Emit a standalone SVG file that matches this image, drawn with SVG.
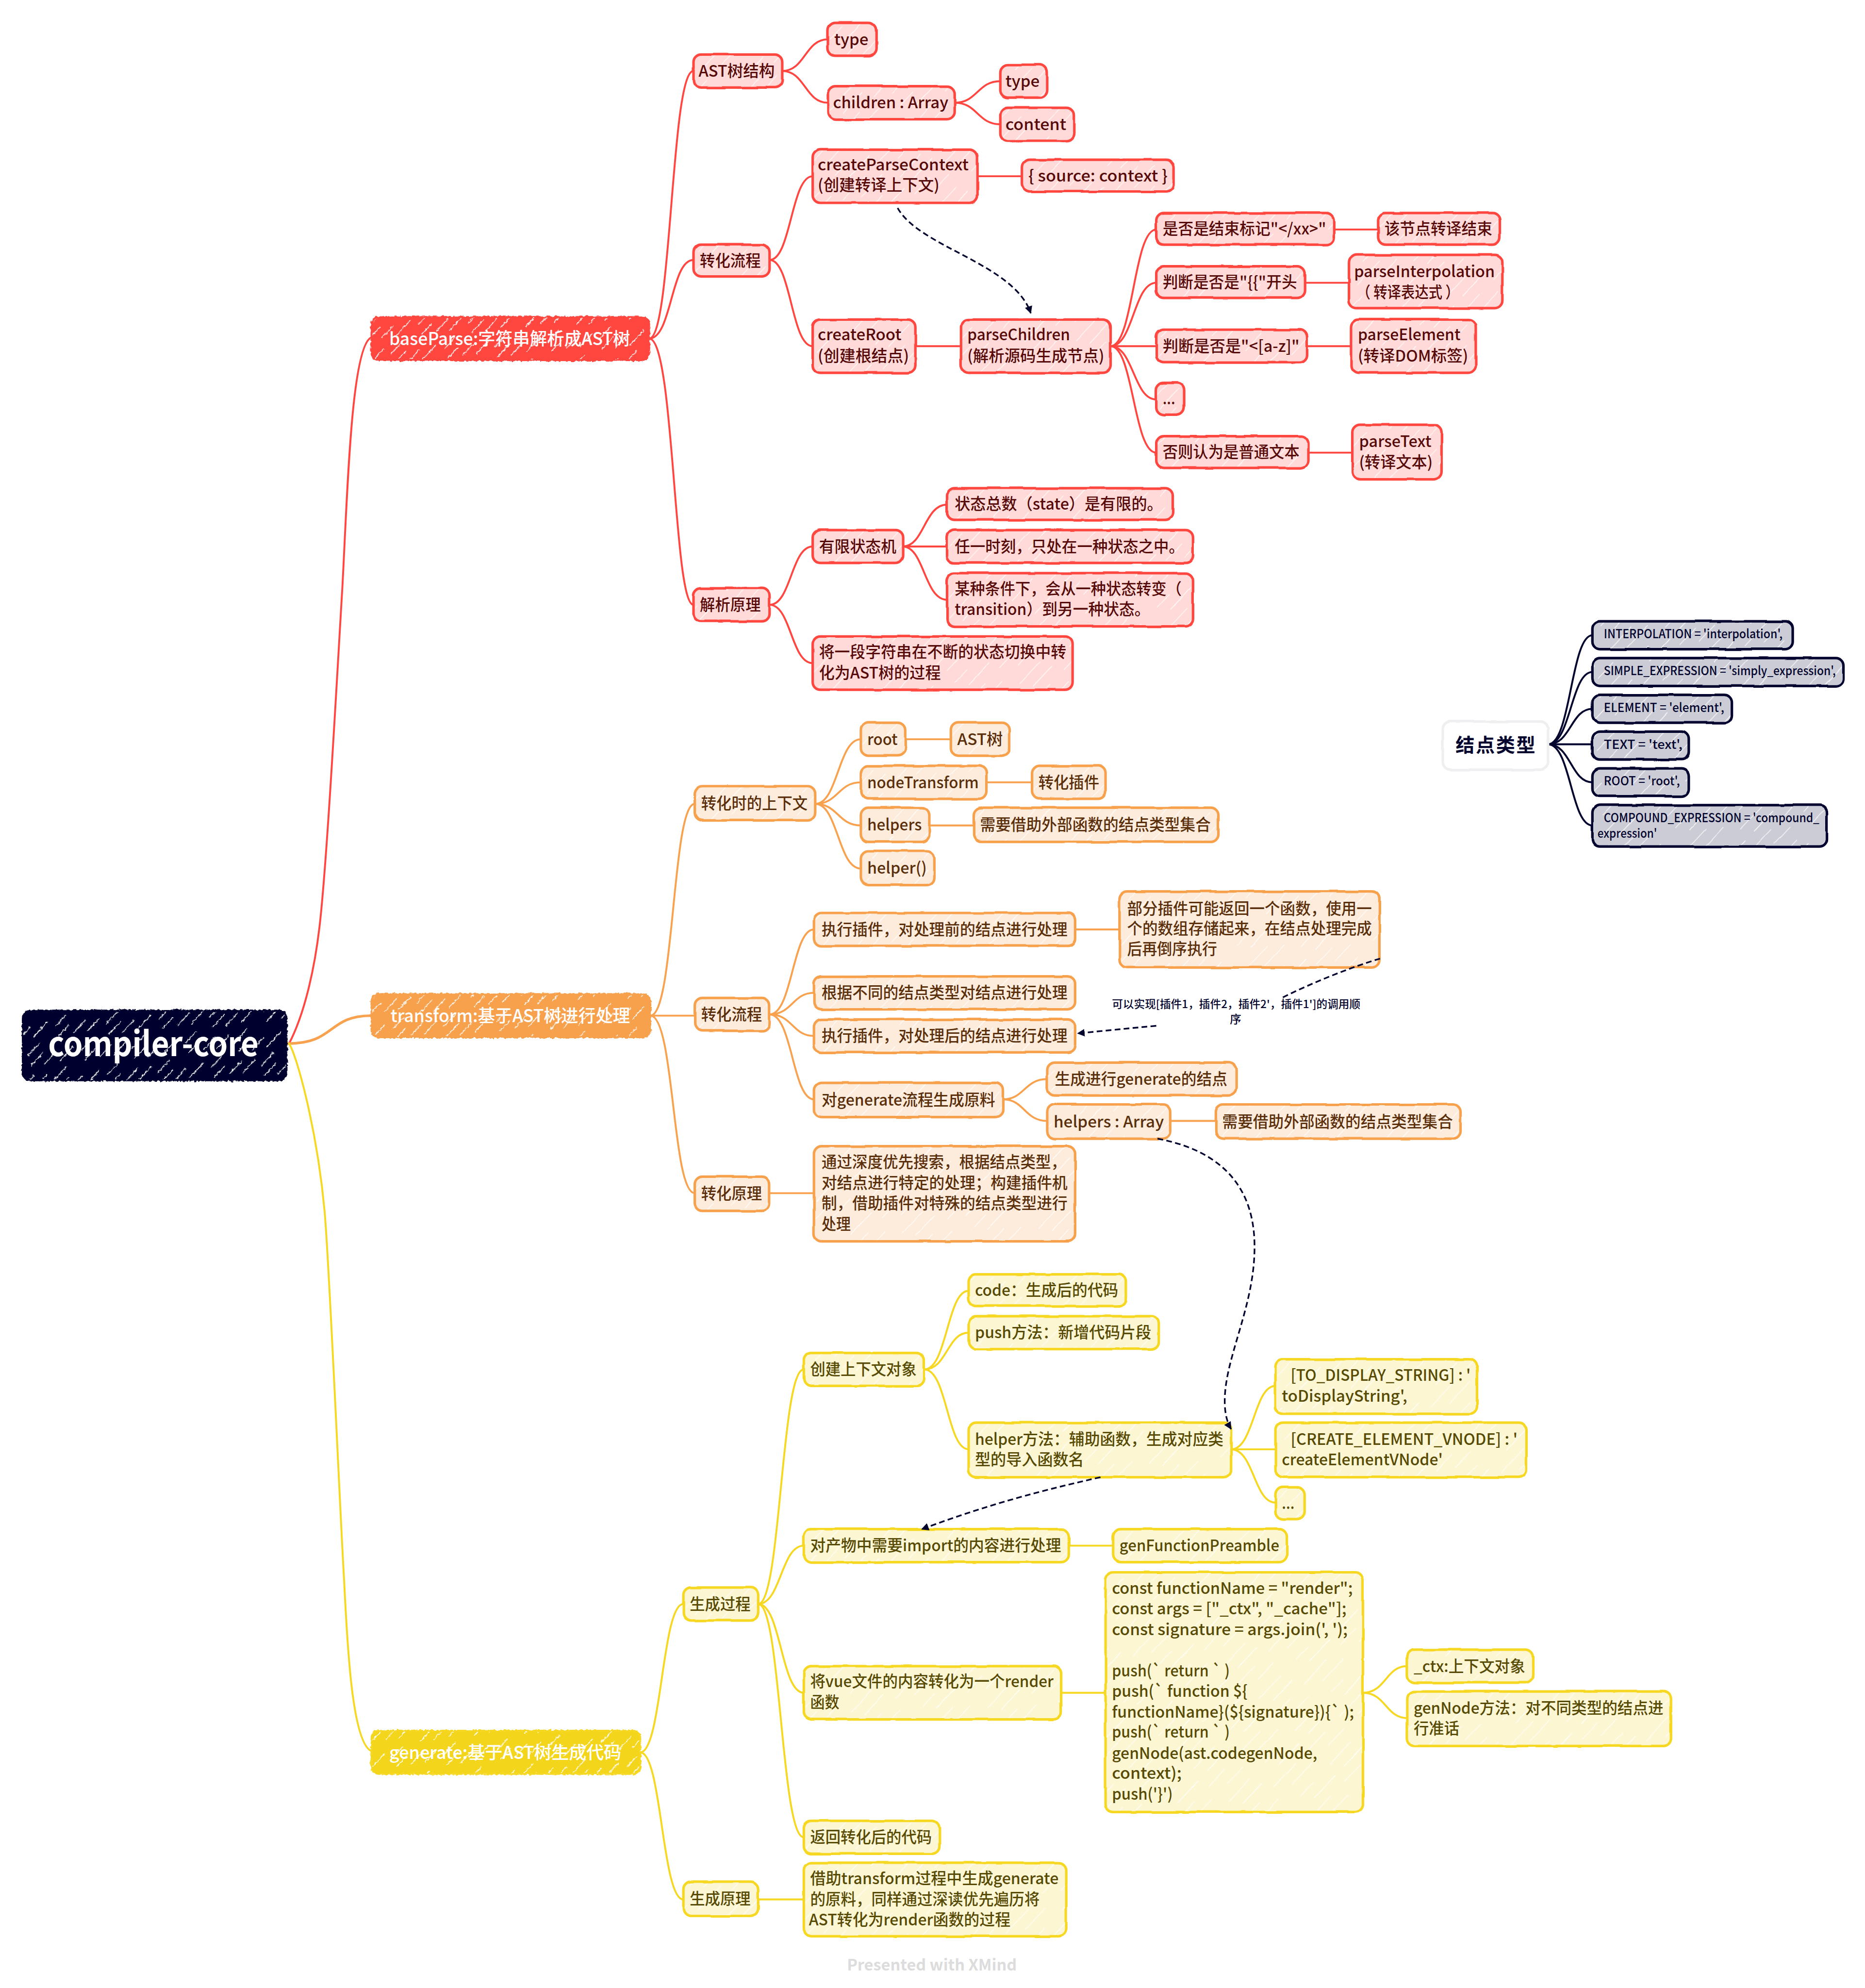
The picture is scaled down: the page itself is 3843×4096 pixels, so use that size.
<svg xmlns="http://www.w3.org/2000/svg" width="3843" height="4096" viewBox="0 0 3843 4096">
<style>
text{font-family:"Noto Sans CJK SC","Noto Sans",sans-serif;font-size:12.5px;font-weight:500;white-space:pre}
.node rect{stroke-width:2;filter:url(#wob)}
.red rect{fill:url(#hr);stroke:#ff4640}.red text{fill:#560b0a}
.org rect{fill:url(#ho);stroke:#f8a14e}.org text{fill:#5a2f0c}
.yel rect{fill:url(#hy);stroke:#f6d722}.yel text{fill:#574a05}
.drk rect{fill:url(#hd);stroke:#03052e}.drk text{fill:#03052e;font-size:9.7px}
.big rect{stroke-width:1.5;filter:url(#rough)}
.big text{fill:#fff;font-size:14px}
.bred rect{fill:url(#br);stroke:#ff4640}.borg rect{fill:url(#bo);stroke:#f8a14e}.byel rect{fill:url(#by);stroke:#f6d722}
.root rect{fill:url(#bk);stroke:#03052e;stroke-width:1.5;filter:url(#rough)}
.root text{fill:#fff;font-size:27px;font-weight:700}
.white rect{fill:#fff;stroke:#efeef0;stroke-width:2;filter:url(#wob)}
.white text{fill:#03052e;font-size:15px;font-weight:700}
.conn path{fill:none;stroke-width:1.5;stroke-linecap:round}
.c-r path{stroke:#ff4640}.c-o path{stroke:#f8a14e}.c-y path{stroke:#f6d722}.c-d path{stroke:#03052e}
.rel path{fill:none;stroke:#03052e;stroke-width:1.3;stroke-dasharray:4.5 2.6}
.lab{fill:#03052e;font-size:8.5px}
.foot{fill:#dcdcdc;font-weight:700}
</style>
<defs>
<filter id="wob" x="-5%" y="-15%" width="110%" height="130%"><feTurbulence type="fractalNoise" baseFrequency="0.05" numOctaves="2" seed="4"/><feDisplacementMap in="SourceGraphic" scale="1.6" xChannelSelector="R" yChannelSelector="G"/></filter>
<filter id="rough" x="-5%" y="-15%" width="110%" height="130%"><feTurbulence type="fractalNoise" baseFrequency="0.45" numOctaves="2" seed="7"/><feDisplacementMap in="SourceGraphic" scale="2.6" xChannelSelector="R" yChannelSelector="G"/></filter>
<g id="hl"><path d="M2,6H26M44,6H58M8,15H30M50,15H74M0,24H18M34,24H60M12,33H30M46,33H70" fill="none" stroke="#fff" stroke-width=".5"/></g>
<pattern id="hr" width="76" height="38" patternUnits="userSpaceOnUse" patternTransform="rotate(-47)"><rect width="76" height="38" fill="#ffdad8"/><use href="#hl"/></pattern>
<pattern id="ho" width="76" height="38" patternUnits="userSpaceOnUse" patternTransform="rotate(-47)"><rect width="76" height="38" fill="#fdebdb"/><use href="#hl"/></pattern>
<pattern id="hy" width="76" height="38" patternUnits="userSpaceOnUse" patternTransform="rotate(-47)"><rect width="76" height="38" fill="#fcf6d2"/><use href="#hl"/></pattern>
<pattern id="hd" width="76" height="38" patternUnits="userSpaceOnUse" patternTransform="rotate(-47)"><rect width="76" height="38" fill="#cbccd5"/><use href="#hl"/></pattern>
<g id="hb"><path d="M2,3H16M34,3H46M10,10H24M44,10H58M20,17H36M52,17H60M0,17H6M6,24H20M38,24H50" fill="none" stroke="#fff" stroke-width=".7"/></g>
<pattern id="br" width="60" height="28" patternUnits="userSpaceOnUse" patternTransform="rotate(-47)"><rect width="60" height="28" fill="#ff4640"/><use href="#hb"/></pattern>
<pattern id="bo" width="60" height="28" patternUnits="userSpaceOnUse" patternTransform="rotate(-47)"><rect width="60" height="28" fill="#f8a14e"/><use href="#hb"/></pattern>
<pattern id="by" width="60" height="28" patternUnits="userSpaceOnUse" patternTransform="rotate(-47)"><rect width="60" height="28" fill="#f3d51f"/><use href="#hb"/></pattern>
<pattern id="bk" width="60" height="28" patternUnits="userSpaceOnUse" patternTransform="rotate(-47)"><rect width="60" height="28" fill="#03052e"/><use href="#hb"/></pattern>
<marker id="arr" markerWidth="8" markerHeight="8" refX="5.5" refY="3" orient="auto" markerUnits="userSpaceOnUse"><path d="M0,0L6,3L0,6Z" fill="#03052e"/></marker>
</defs>
<g transform="scale(2.6125)">
<g id="connectors">
<g class="conn c-r">
<path d="M228,823C240,800 248,765 252,731C258,680 266,530 270,464C274,390 277,272 293,266"/>
<path d="M512,267C530,267 529,56 547,56"/><path d="M512,267C530,267 529,205 547,205"/><path d="M512,267C532,267 531,477 547,477"/>
<path d="M617,56C635,56 635,31 653,31"/><path d="M617,56C635,56 635,81 653,81"/>
<path d="M753,81C771,81 771,64 789,64"/><path d="M753,81C771,81 771,98 789,98"/>
<path d="M607,205C624,205 624,139 641,139"/><path d="M607,205C624,205 624,273 641,273"/>
<path d="M771,139H806"/><path d="M722,273H758"/>
<path d="M876,273C894,273 894,181 912,181"/><path d="M876,273C894,273 894,223 912,223"/><path d="M876,273H912"/><path d="M876,273C894,273 894,315 912,315"/><path d="M876,273C894,273 894,357 912,357"/>
<path d="M1052,181H1087"/><path d="M1029,223H1064"/><path d="M1031,273H1066"/><path d="M1032,357H1067"/>
<path d="M607,477C624,477 624,431 641,431"/><path d="M607,477C624,477 624,523 641,523"/>
<path d="M712,431C729,431 729,398 747,398"/><path d="M712,431H747"/><path d="M712,431C729,431 729,473 747,473"/>
</g>
<g class="conn c-o">
<path d="M227,823C265,823 258,801 293,801" style="stroke-width:2"/>
<path d="M513,801C532,801 530,634 548,634"/><path d="M513,801H548"/><path d="M513,801C532,801 530,941 548,941"/>
<path d="M643,634C661,634 661,583 679,583"/><path d="M643,634C661,634 661,617 679,617"/><path d="M643,634C661,634 661,651 679,651"/><path d="M643,634C661,634 661,685 679,685"/>
<path d="M714,583H750"/><path d="M778,617H814"/><path d="M733,651H768"/>
<path d="M607,800C625,800 625,733 642,733"/><path d="M607,800C625,800 625,783 642,783"/><path d="M607,800C625,800 625,817 642,817"/><path d="M607,800C625,800 625,867 642,867"/>
<path d="M848,733H883"/>
<path d="M791,867C808,867 808,851 826,851"/><path d="M791,867C808,867 808,884 826,884"/>
<path d="M923,884H959"/><path d="M607,941H642"/>
</g>
<g class="conn c-y">
<path d="M228,823C234,832 250,890 256,955C260,1000 268,1190 271.5,1248C274,1300 278,1375 293,1381"/>
<path d="M505,1382C522,1382 522,1265 539,1265"/><path d="M505,1382C522,1382 522,1498 539,1498"/>
<path d="M598,1265C616,1265 616,1080 634,1080"/><path d="M598,1265C616,1265 616,1219 634,1219"/><path d="M598,1265C616,1265 616,1335 634,1335"/><path d="M598,1265C616,1265 616,1449 634,1449"/>
<path d="M729,1080C747,1080 747,1018 764,1018"/><path d="M729,1080C747,1080 747,1051 764,1051"/><path d="M729,1080C747,1080 747,1143 764,1143"/>
<path d="M971,1143C989,1143 989,1093 1006,1093"/><path d="M971,1143H1006"/><path d="M971,1143C989,1143 989,1185 1006,1185"/>
<path d="M843,1219H878"/><path d="M837,1335H872"/>
<path d="M1075,1335C1093,1335 1093,1314 1110,1314"/><path d="M1075,1335C1093,1335 1093,1355 1110,1355"/>
<path d="M598,1498H634"/>
</g>
<g class="conn c-d">
<path d="M1221,587C1239,587 1239,501 1256,501"/><path d="M1221,587C1239,587 1239,530 1256,530"/><path d="M1221,587C1239,587 1239,559 1256,559"/><path d="M1221,587H1256"/><path d="M1221,587C1239,587 1239,617 1256,617"/><path d="M1221,587C1239,587 1239,651 1256,651"/>
</g>
</g>

<g id="root" class="root"><rect x="18" y="797" width="208" height="55" rx="6"/><text x="38" y="833" textLength="166" lengthAdjust="spacingAndGlyphs">compiler-core</text></g>

<g id="b-parse" class="node big bred"><rect x="293" y="250" width="219" height="34" rx="6"/><text x="307" y="272" textLength="190" lengthAdjust="spacingAndGlyphs">baseParse:字符串解析成AST树</text></g>
<g id="b-transform" class="node big borg"><rect x="293" y="784" width="220" height="34" rx="6"/><text x="308" y="806" textLength="189" lengthAdjust="spacingAndGlyphs">transform:基于AST树进行处理</text></g>
<g id="b-generate" class="node big byel"><rect x="293" y="1365" width="212" height="34" rx="6"/><text x="307" y="1387" textLength="183" lengthAdjust="spacingAndGlyphs">generate:基于AST树生成代码</text></g>

<g id="r1" class="node red"><rect x="547" y="43" width="70" height="26" rx="6"/><text x="551" y="60.5" textLength="60" lengthAdjust="spacingAndGlyphs">AST树结构</text></g>
<g id="r2" class="node red"><rect x="653" y="18" width="38" height="26" rx="6"/><text x="658" y="35.5" textLength="27" lengthAdjust="spacingAndGlyphs">type</text></g>
<g id="r3" class="node red"><rect x="653" y="68" width="100" height="26" rx="6"/><text x="657" y="85.5" textLength="91" lengthAdjust="spacingAndGlyphs">children : Array</text></g>
<g id="r4" class="node red"><rect x="789" y="51" width="37" height="26" rx="6"/><text x="793" y="68.5" textLength="27" lengthAdjust="spacingAndGlyphs">type</text></g>
<g id="r5" class="node red"><rect x="789" y="85" width="58" height="26" rx="6"/><text x="793" y="102.5" textLength="48" lengthAdjust="spacingAndGlyphs">content</text></g>
<g id="r6" class="node red"><rect x="547" y="193" width="60" height="25" rx="6"/><text x="552" y="210" textLength="48" lengthAdjust="spacingAndGlyphs">转化流程</text></g>
<g id="r7" class="node red"><rect x="641" y="118" width="130" height="42" rx="6"/><text x="645" y="134.5" textLength="119" lengthAdjust="spacingAndGlyphs">createParseContext</text><text x="645" y="150.5" textLength="96" lengthAdjust="spacingAndGlyphs">(创建转译上下文)</text></g>
<g id="r8" class="node red"><rect x="806" y="126" width="120" height="25" rx="6"/><text x="811" y="143" textLength="110" lengthAdjust="spacingAndGlyphs">{ source: context }</text></g>
<g id="r9" class="node red"><rect x="641" y="252" width="81" height="42" rx="6"/><text x="645" y="268.5" textLength="66" lengthAdjust="spacingAndGlyphs">createRoot</text><text x="645" y="285" textLength="72" lengthAdjust="spacingAndGlyphs">(创建根结点)</text></g>
<g id="r10" class="node red"><rect x="758" y="252" width="118" height="42" rx="6"/><text x="763" y="268.5" textLength="81" lengthAdjust="spacingAndGlyphs">parseChildren</text><text x="763" y="285" textLength="108" lengthAdjust="spacingAndGlyphs">(解析源码生成节点)</text></g>
<g id="r11" class="node red"><rect x="912" y="168" width="140" height="25" rx="6"/><text x="917" y="185" textLength="129" lengthAdjust="spacingAndGlyphs">是否是结束标记"&lt;/xx&gt;"</text></g>
<g id="r12" class="node red"><rect x="1087" y="168" width="96" height="25" rx="6"/><text x="1092" y="185" textLength="85" lengthAdjust="spacingAndGlyphs">该节点转译结束</text></g>
<g id="r13" class="node red"><rect x="912" y="210" width="117" height="25" rx="6"/><text x="917" y="227" textLength="106" lengthAdjust="spacingAndGlyphs">判断是否是"{{"开头</text></g>
<g id="r14" class="node red"><rect x="1064" y="201" width="121" height="42" rx="6"/><text x="1068" y="218.5" textLength="111" lengthAdjust="spacingAndGlyphs">parseInterpolation</text><text x="1070" y="235" textLength="81" lengthAdjust="spacingAndGlyphs">（ 转译表达式 ）</text></g>
<g id="r15" class="node red"><rect x="912" y="260" width="119" height="26" rx="6"/><text x="917" y="277.5" textLength="108" lengthAdjust="spacingAndGlyphs">判断是否是"&lt;[a-z]"</text></g>
<g id="r16" class="node red"><rect x="1066" y="252" width="98" height="42" rx="6"/><text x="1071" y="268.5" textLength="81" lengthAdjust="spacingAndGlyphs">parseElement</text><text x="1071" y="285" textLength="87" lengthAdjust="spacingAndGlyphs">(转译DOM标签)</text></g>
<g id="r17" class="node red"><rect x="912" y="302" width="22" height="25" rx="6"/><text x="917" y="319" textLength="10" lengthAdjust="spacingAndGlyphs">...</text></g>
<g id="r18" class="node red"><rect x="912" y="344" width="120" height="25" rx="6"/><text x="917" y="361" textLength="108" lengthAdjust="spacingAndGlyphs">否则认为是普通文本</text></g>
<g id="r19" class="node red"><rect x="1067" y="335" width="70" height="43" rx="6"/><text x="1072" y="352.5" textLength="57" lengthAdjust="spacingAndGlyphs">parseText</text><text x="1072" y="369" textLength="58" lengthAdjust="spacingAndGlyphs">(转译文本)</text></g>
<g id="r20" class="node red"><rect x="547" y="464" width="60" height="26" rx="6"/><text x="552" y="481.5" textLength="48" lengthAdjust="spacingAndGlyphs">解析原理</text></g>
<g id="r21" class="node red"><rect x="641" y="418" width="71" height="26" rx="6"/><text x="646" y="435.5" textLength="61" lengthAdjust="spacingAndGlyphs">有限状态机</text></g>
<g id="r22" class="node red"><rect x="747" y="385" width="178" height="25" rx="6"/><text x="753" y="402" textLength="164" lengthAdjust="spacingAndGlyphs">状态总数（state）是有限的。</text></g>
<g id="r23" class="node red"><rect x="747" y="418" width="194" height="26" rx="6"/><text x="753" y="435.5" textLength="181" lengthAdjust="spacingAndGlyphs">任一时刻，只处在一种状态之中。</text></g>
<g id="r24" class="node red"><rect x="747" y="452" width="194" height="42" rx="6"/><text x="753" y="469" textLength="179" lengthAdjust="spacingAndGlyphs">某种条件下，会从一种状态转变（</text><text x="753" y="485" textLength="154" lengthAdjust="spacingAndGlyphs">transition）到另一种状态。</text></g>
<g id="r25" class="node red"><rect x="641" y="502" width="205" height="42" rx="6"/><text x="646" y="518.5" textLength="195" lengthAdjust="spacingAndGlyphs">将一段字符串在不断的状态切换中转</text><text x="646" y="535" textLength="96" lengthAdjust="spacingAndGlyphs">化为AST树的过程</text></g>

<g id="o1" class="node org"><rect x="548" y="620" width="95" height="27" rx="6"/><text x="553" y="638" textLength="84" lengthAdjust="spacingAndGlyphs">转化时的上下文</text></g>
<g id="o2" class="node org"><rect x="679" y="570" width="35" height="26" rx="6"/><text x="684" y="587.5" textLength="24" lengthAdjust="spacingAndGlyphs">root</text></g>
<g id="o3" class="node org"><rect x="750" y="570" width="46" height="26" rx="6"/><text x="755" y="587.5" textLength="36" lengthAdjust="spacingAndGlyphs">AST树</text></g>
<g id="o4" class="node org"><rect x="679" y="604" width="99" height="26" rx="6"/><text x="684" y="621.5" textLength="88" lengthAdjust="spacingAndGlyphs">nodeTransform</text></g>
<g id="o5" class="node org"><rect x="814" y="604" width="58" height="26" rx="6"/><text x="819" y="621.5" textLength="48" lengthAdjust="spacingAndGlyphs">转化插件</text></g>
<g id="o6" class="node org"><rect x="679" y="637" width="54" height="27" rx="6"/><text x="684" y="655" textLength="43" lengthAdjust="spacingAndGlyphs">helpers</text></g>
<g id="o7" class="node org"><rect x="768" y="637" width="193" height="27" rx="6"/><text x="773" y="655" textLength="182" lengthAdjust="spacingAndGlyphs">需要借助外部函数的结点类型集合</text></g>
<g id="o8" class="node org"><rect x="679" y="671" width="58" height="27" rx="6"/><text x="684" y="689" textLength="47" lengthAdjust="spacingAndGlyphs">helper()</text></g>
<g id="o9" class="node org"><rect x="548" y="787" width="59" height="26" rx="6"/><text x="553" y="804.5" textLength="48" lengthAdjust="spacingAndGlyphs">转化流程</text></g>
<g id="o10" class="node org"><rect x="642" y="720" width="206" height="26" rx="6"/><text x="648" y="737.5" textLength="194" lengthAdjust="spacingAndGlyphs">执行插件，对处理前的结点进行处理</text></g>
<g id="o11" class="node org"><rect x="883" y="703" width="205" height="60" rx="6"/><text x="889" y="721" textLength="193" lengthAdjust="spacingAndGlyphs">部分插件可能返回一个函数，使用一</text><text x="889" y="737" textLength="193" lengthAdjust="spacingAndGlyphs">个的数组存储起来，在结点处理完成</text><text x="889" y="753" textLength="71" lengthAdjust="spacingAndGlyphs">后再倒序执行</text></g>
<g id="o12" class="node org"><rect x="642" y="770" width="206" height="26" rx="6"/><text x="648" y="787.5" textLength="194" lengthAdjust="spacingAndGlyphs">根据不同的结点类型对结点进行处理</text></g>
<g id="o13" class="node org"><rect x="642" y="804" width="206" height="26" rx="6"/><text x="648" y="821.5" textLength="194" lengthAdjust="spacingAndGlyphs">执行插件，对处理后的结点进行处理</text></g>
<g id="o14" class="node org"><rect x="642" y="854" width="149" height="27" rx="6"/><text x="648" y="872" textLength="137" lengthAdjust="spacingAndGlyphs">对generate流程生成原料</text></g>
<g id="o15" class="node org"><rect x="826" y="838" width="149" height="26" rx="6"/><text x="832" y="855.5" textLength="136" lengthAdjust="spacingAndGlyphs">生成进行generate的结点</text></g>
<g id="o16" class="node org"><rect x="826" y="871" width="97" height="27" rx="6"/><text x="831" y="889" textLength="87" lengthAdjust="spacingAndGlyphs">helpers : Array</text></g>
<g id="o17" class="node org"><rect x="959" y="871" width="193" height="27" rx="6"/><text x="964" y="889" textLength="182" lengthAdjust="spacingAndGlyphs">需要借助外部函数的结点类型集合</text></g>
<g id="o18" class="node org"><rect x="548" y="928" width="59" height="27" rx="6"/><text x="553" y="946" textLength="48" lengthAdjust="spacingAndGlyphs">转化原理</text></g>
<g id="o19" class="node org"><rect x="642" y="904" width="206" height="75" rx="6"/><text x="648" y="921" textLength="193" lengthAdjust="spacingAndGlyphs">通过深度优先搜索，根据结点类型，</text><text x="648" y="937.5" textLength="194" lengthAdjust="spacingAndGlyphs">对结点进行特定的处理；构建插件机</text><text x="648" y="953.5" textLength="194" lengthAdjust="spacingAndGlyphs">制，借助插件对特殊的结点类型进行</text><text x="648" y="970" textLength="23" lengthAdjust="spacingAndGlyphs">处理</text></g>

<g id="y1" class="node yel"><rect x="634" y="1067" width="95" height="26" rx="6"/><text x="639" y="1084.5" textLength="84" lengthAdjust="spacingAndGlyphs">创建上下文对象</text></g>
<g id="y2" class="node yel"><rect x="764" y="1005" width="124" height="25" rx="6"/><text x="769" y="1022" textLength="113" lengthAdjust="spacingAndGlyphs">code：生成后的代码</text></g>
<g id="y3" class="node yel"><rect x="764" y="1038" width="150" height="26" rx="6"/><text x="769" y="1055.5" textLength="139" lengthAdjust="spacingAndGlyphs">push方法：新增代码片段</text></g>
<g id="y4" class="node yel"><rect x="764" y="1122" width="207" height="43" rx="6"/><text x="769" y="1139.5" textLength="196" lengthAdjust="spacingAndGlyphs">helper方法：辅助函数，生成对应类</text><text x="769" y="1155.5" textLength="86" lengthAdjust="spacingAndGlyphs">型的导入函数名</text></g>
<g id="y5" class="node yel"><rect x="1006" y="1072" width="159" height="43" rx="6"/><text x="1018" y="1089" textLength="142" lengthAdjust="spacingAndGlyphs">[TO_DISPLAY_STRING] : '</text><text x="1011" y="1105.5" textLength="99" lengthAdjust="spacingAndGlyphs">toDisplayString',</text></g>
<g id="y6" class="node yel"><rect x="1006" y="1122" width="198" height="43" rx="6"/><text x="1018" y="1139.5" textLength="179" lengthAdjust="spacingAndGlyphs">[CREATE_ELEMENT_VNODE] : '</text><text x="1011" y="1155.5" textLength="127" lengthAdjust="spacingAndGlyphs">createElementVNode'</text></g>
<g id="y7" class="node yel"><rect x="1006" y="1173" width="23" height="25" rx="6"/><text x="1011" y="1190" textLength="10" lengthAdjust="spacingAndGlyphs">...</text></g>
<g id="y8" class="node yel"><rect x="539" y="1252" width="59" height="26" rx="6"/><text x="544" y="1269.5" textLength="48" lengthAdjust="spacingAndGlyphs">生成过程</text></g>
<g id="y9" class="node yel"><rect x="634" y="1206" width="209" height="26" rx="6"/><text x="639" y="1223.5" textLength="198" lengthAdjust="spacingAndGlyphs">对产物中需要import的内容进行处理</text></g>
<g id="y10" class="node yel"><rect x="878" y="1206" width="137" height="26" rx="6"/><text x="883" y="1223.5" textLength="126" lengthAdjust="spacingAndGlyphs">genFunctionPreamble</text></g>
<g id="y11" class="node yel"><rect x="634" y="1314" width="203" height="42" rx="6"/><text x="639" y="1330.5" textLength="192" lengthAdjust="spacingAndGlyphs">将vue文件的内容转化为一个render</text><text x="639" y="1347" textLength="23" lengthAdjust="spacingAndGlyphs">函数</text></g>
<g id="y12" class="node yel"><rect x="872" y="1240" width="203" height="189" rx="6"/><text x="877" y="1257" textLength="190" lengthAdjust="spacingAndGlyphs">const functionName = "render";</text><text x="877" y="1273" textLength="185" lengthAdjust="spacingAndGlyphs">const args = ["_ctx", "_cache"];</text><text x="877" y="1289.5" textLength="186" lengthAdjust="spacingAndGlyphs">const signature = args.join(', ');</text><text x="877" y="1322" textLength="93" lengthAdjust="spacingAndGlyphs">push(` return ` )</text><text x="877" y="1338" textLength="107" lengthAdjust="spacingAndGlyphs">push(` function ${</text><text x="877" y="1354.5" textLength="191" lengthAdjust="spacingAndGlyphs">functionName}(${signature}){` );</text><text x="877" y="1370.5" textLength="93" lengthAdjust="spacingAndGlyphs">push(` return ` )</text><text x="877" y="1387" textLength="162" lengthAdjust="spacingAndGlyphs">genNode(ast.codegenNode,</text><text x="877" y="1403" textLength="55" lengthAdjust="spacingAndGlyphs">context);</text><text x="877" y="1419.5" textLength="48" lengthAdjust="spacingAndGlyphs">push('}')</text></g>
<g id="y13" class="node yel"><rect x="1110" y="1301" width="99" height="26" rx="6"/><text x="1115" y="1318.5" textLength="88" lengthAdjust="spacingAndGlyphs">_ctx:上下文对象</text></g>
<g id="y14" class="node yel"><rect x="1110" y="1334" width="208" height="43" rx="6"/><text x="1115" y="1351.5" textLength="197" lengthAdjust="spacingAndGlyphs">genNode方法：对不同类型的结点进</text><text x="1115" y="1367.5" textLength="36" lengthAdjust="spacingAndGlyphs">行准话</text></g>
<g id="y15" class="node yel"><rect x="634" y="1436" width="107" height="26" rx="6"/><text x="639" y="1453.5" textLength="96" lengthAdjust="spacingAndGlyphs">返回转化后的代码</text></g>
<g id="y16" class="node yel"><rect x="539" y="1484" width="59" height="27" rx="6"/><text x="544" y="1502" textLength="48" lengthAdjust="spacingAndGlyphs">生成原理</text></g>
<g id="y17" class="node yel"><rect x="634" y="1469" width="207" height="58" rx="6"/><text x="639" y="1486" textLength="196" lengthAdjust="spacingAndGlyphs">借助transform过程中生成generate</text><text x="639" y="1502.5" textLength="181" lengthAdjust="spacingAndGlyphs">的原料，同样通过深读优先遍历将</text><text x="638" y="1518.5" textLength="159" lengthAdjust="spacingAndGlyphs">AST转化为render函数的过程</text></g>

<g id="d0" class="white"><rect x="1138" y="569" width="83" height="38" rx="6"/><text x="1148" y="593" textLength="63" lengthAdjust="spacing">结点类型</text></g>
<g id="d1" class="node drk"><rect x="1256" y="490" width="158" height="22" rx="6"/><text x="1265" y="503.5" textLength="141" lengthAdjust="spacingAndGlyphs">INTERPOLATION = 'interpolation',</text></g>
<g id="d2" class="node drk"><rect x="1256" y="519" width="198" height="22" rx="6"/><text x="1265" y="532.5" textLength="183" lengthAdjust="spacingAndGlyphs">SIMPLE_EXPRESSION = 'simply_expression',</text></g>
<g id="d3" class="node drk"><rect x="1256" y="548" width="110" height="22" rx="6"/><text x="1265" y="561.5" textLength="95" lengthAdjust="spacingAndGlyphs">ELEMENT = 'element',</text></g>
<g id="d4" class="node drk"><rect x="1256" y="577" width="76" height="22" rx="6"/><text x="1265" y="590.5" textLength="62" lengthAdjust="spacingAndGlyphs">TEXT = 'text',</text></g>
<g id="d5" class="node drk"><rect x="1256" y="606" width="76" height="22" rx="6"/><text x="1265" y="619.5" textLength="60" lengthAdjust="spacingAndGlyphs">ROOT = 'root',</text></g>
<g id="d6" class="node drk"><rect x="1256" y="635" width="185" height="33" rx="6"/><text x="1265" y="648.5" textLength="170" lengthAdjust="spacingAndGlyphs">COMPOUND_EXPRESSION = 'compound_</text><text x="1260" y="660.5" textLength="47" lengthAdjust="spacingAndGlyphs">expression'</text></g>

<g id="relationships" class="rel">
<path d="M708,164C725,195 800,208 813,247" marker-end="url(#arr)"/>
<path d="M1088.5,756C1065,763 1035,775 1011,787"/>
<path d="M912,809C890,811 870,813 850,815" marker-end="url(#arr)"/>
<path d="M913,898C950,905 989,925 989.5,982C990,1030 966,1070 966,1105C966,1115 968,1122 971,1127" marker-end="url(#arr)"/>
<path d="M868,1165C810,1178 770,1190 727,1206" marker-end="url(#arr)"/>
</g>
<text class="lab" x="877" y="795" textLength="196" lengthAdjust="spacingAndGlyphs">可以实现[插件1，插件2，插件2'，插件1']的调用顺</text>
<text class="lab" x="970" y="807" textLength="9" lengthAdjust="spacingAndGlyphs">序</text>

<text class="foot" x="668" y="1554" textLength="134" lengthAdjust="spacingAndGlyphs">Presented with XMind</text>
</g>
</svg>
